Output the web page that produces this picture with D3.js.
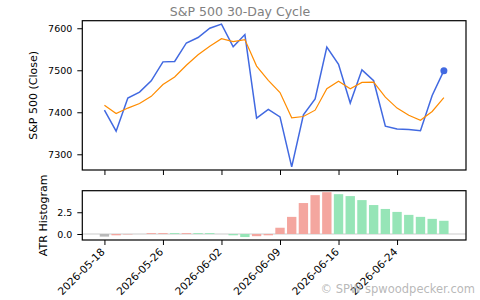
<!DOCTYPE html>
<meta charset="utf-8">
<style>
  body { margin: 0; background: #fff; }
  text { font-family: "DejaVu Sans", sans-serif; }
</style>
<body>
<svg id="chart" width="480" height="300"></svg>
</body>
<script src="https://d3js.org/d3.v7.min.js"></script>
<script>
// trading days shown on the x axis (index based, holidays skipped)
var dates = ["2026-05-18","2026-05-19","2026-05-20","2026-05-21","2026-05-22",
  "2026-05-26","2026-05-27","2026-05-28","2026-05-29","2026-06-01",
  "2026-06-02","2026-06-03","2026-06-04","2026-06-05","2026-06-08",
  "2026-06-09","2026-06-10","2026-06-11","2026-06-12","2026-06-15",
  "2026-06-16","2026-06-17","2026-06-18","2026-06-22","2026-06-23",
  "2026-06-24","2026-06-25","2026-06-26","2026-06-29","2026-06-30"];

// closing price
var close = [7405,7355,7434,7448,7475,7520,7521,7565,7578,7600,
  7610,7556,7585,7386,7407,7389,7270,7394,7432,7555,
  7514,7422,7501,7475,7367,7360,7359,7356,7440,7499];

// smoothed cycle line
var smooth = [7417,7397,7410,7421,7438,7466,7484,7512,7537,7557,
  7575,7568,7573,7510,7476,7447,7387,7390,7405,7456,
  7474,7456,7471,7472,7436,7410,7393,7381,7402,7435];

// ATR histogram
var atr = [-0.3,-0.15,-0.05,0.0,0.1,0.1,0.1,0.1,0.1,0.1,
  0.0,-0.15,-0.35,-0.25,-0.15,0.72,1.97,3.56,4.47,4.81,
  4.58,4.36,3.9,3.33,2.88,2.54,2.2,1.97,1.74,1.52];
var atrColor = ["gray","red","red","red","red","red","green","red","green","green",
  "green","green","green","red","red","red","red","red","red","red",
  "green","green","green","green","green","green","green","green","green","green"];

var topTicks = [7300, 7400, 7500, 7600];
var botTicks = [0, 2.5];
var dateTicks = [0, 5, 10, 15, 20, 25];

var colors = {red: "#f4a69f", green: "#96e5b7", gray: "#b9b9b9"};

var svg = d3.select("#chart");
svg.append("rect").attr("width", 480).attr("height", 300).attr("fill", "#fff");

var left = 82.3, right = 466,
    top1 = 20.7, bot1 = 170,
    top2 = 190.7, bot2 = 240;

var x = d3.scaleLinear().domain([-1.89, 30.89]).range([left, right]);
var y1 = d3.scaleLinear().domain([7262.6, 7618]).range([bot1, top1]);
var y2 = d3.scaleLinear().domain([-0.69, 4.98]).range([bot2, top2]);

// title
svg.append("text").attr("x", 240).attr("y", 16)
  .attr("text-anchor", "middle").attr("font-size", 12.5)
  .attr("fill", "#808080").text("S&P 500 30-Day Cycle");

// price panel
var g1 = svg.append("g");
g1.append("path").datum(close)
  .attr("fill", "none").attr("stroke", "#4169e1").attr("stroke-width", 1.5)
  .attr("d", d3.line().x(function(d, i){ return x(i); }).y(function(d){ return y1(d); }));
g1.append("path").datum(smooth)
  .attr("fill", "none").attr("stroke", "#ff8c00").attr("stroke-width", 1.2)
  .attr("d", d3.line().x(function(d, i){ return x(i); }).y(function(d){ return y1(d); }));
g1.append("circle")
  .attr("cx", x(close.length - 1)).attr("cy", y1(close[close.length - 1]))
  .attr("r", 3.5).attr("fill", "#4169e1");

g1.append("g").attr("transform", "translate(" + left + ",0)")
  .call(d3.axisLeft(y1).tickValues(topTicks).tickSize(5).tickPadding(5).tickFormat(d3.format("d")));
g1.append("g").attr("transform", "translate(0," + bot1 + ")")
  .call(d3.axisBottom(x).tickValues(dateTicks).tickSize(5).tickFormat(""));

g1.append("rect").attr("x", left).attr("y", top1)
  .attr("width", right - left).attr("height", bot1 - top1)
  .attr("fill", "none").attr("stroke", "#000").attr("stroke-width", 1.2);

g1.append("text").attr("transform", "translate(37," + (top1 + bot1) / 2 + ") rotate(-90)")
  .attr("text-anchor", "middle").attr("font-size", 11).text("S&P 500 (Close)");

// histogram panel
var g2 = svg.append("g");
g2.append("line").attr("x1", left).attr("x2", right)
  .attr("y1", y2(0)).attr("y2", y2(0))
  .attr("stroke", "#cccccc").attr("stroke-width", 1.2);
var bw = x(0.8) - x(0);
g2.selectAll("rect.bar").data(atr).enter().append("rect")
  .attr("class", "bar")
  .attr("x", function(d, i){ return x(i) - bw / 2; })
  .attr("y", function(d){ return y2(Math.max(0, d)); })
  .attr("width", bw)
  .attr("height", function(d){ return Math.abs(y2(d) - y2(0)); })
  .attr("fill", function(d, i){ return colors[atrColor[i]]; });

g2.append("g").attr("transform", "translate(" + left + ",0)")
  .call(d3.axisLeft(y2).tickValues(botTicks).tickSize(5).tickPadding(5).tickFormat(d3.format(".1f")));
var xAxis2 = g2.append("g").attr("transform", "translate(0," + bot2 + ")")
  .call(d3.axisBottom(x).tickValues(dateTicks).tickSize(5).tickFormat(function(d){ return dates[d]; }));

g2.append("rect").attr("x", left).attr("y", top2)
  .attr("width", right - left).attr("height", bot2 - top2)
  .attr("fill", "none").attr("stroke", "#000").attr("stroke-width", 1.2);

g2.append("text").attr("transform", "translate(47," + (top2 + bot2) / 2 + ") rotate(-90)")
  .attr("text-anchor", "middle").attr("font-size", 11).text("ATR Histogram");

svg.selectAll(".tick text").attr("font-size", 9.5).attr("fill", "#000");
xAxis2.selectAll("text")
  .attr("font-size", 10.5)
  .attr("text-anchor", "end")
  .attr("dy", "0.35em")
  .attr("transform", "translate(-2,10) rotate(-45)")
  .attr("y", 0).attr("x", 0);
svg.selectAll(".domain").remove();
svg.selectAll(".tick line").attr("stroke", "#000");

// watermark
svg.append("text").attr("x", 475).attr("y", 293)
  .attr("text-anchor", "end").attr("font-size", 11.5)
  .attr("fill", "#b0b0b0").attr("fill-opacity", 0.9).text("© SPW  spwoodpecker.com");
</script>
